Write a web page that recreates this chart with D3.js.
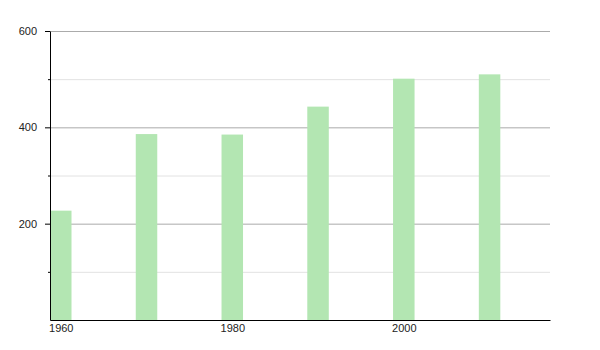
<!DOCTYPE html>
<html>
<head>
<meta charset="utf-8">
<script src="https://cdn.jsdelivr.net/npm/d3@7"></script>
<style>
  body { margin: 0; background: #fff; }
  text { font-family: "Liberation Sans", Arial, sans-serif; font-size: 11px; fill: #222; }
</style>
</head>
<body>
<div id="chart"></div>
<script>
// Data
const years = [1960, 1970, 1980, 1990, 2000, 2010];
const values = [227, 386, 385, 443, 501, 510];
const xTickYears = [1960, 1980, 2000];
const yMajorTicks = [200, 400, 600];
const yMinorTicks = [100, 300, 500];

const W = 600, H = 350;
const margin = { top: 31, right: 50, bottom: 30, left: 50 };
const width = W - margin.left - margin.right;
const height = H - margin.top - margin.bottom;
const barWidth = 21.5;

const svg = d3.select('#chart')
  .append('svg')
  .attr('width', W)
  .attr('height', H)
  .append('g')
  .attr('transform', `translate(${margin.left},${margin.top})`);

const x = d3.scaleLinear().domain([1960, 2018.3]).range([0, width]);
const y = d3.scaleLinear().domain([0, 600]).range([height, 0]);

// minor grid lines
svg.append('g')
  .call(d3.axisLeft(y).tickValues(yMinorTicks).tickSize(-width).tickFormat(''))
  .call((g) => g.select('.domain').remove())
  .call((g) => g.selectAll('.tick line').attr('stroke', '#e2e2e2'));

// major grid lines
svg.append('g')
  .call(d3.axisLeft(y).tickValues(yMajorTicks).tickSize(-width).tickFormat(''))
  .call((g) => g.select('.domain').remove())
  .call((g) => g.selectAll('.tick line').attr('stroke', '#ababab'));

// bars
svg.selectAll('.bar')
  .data(years)
  .enter()
  .append('rect')
  .attr('class', 'bar')
  .attr('x', (d) => x(d))
  .attr('y', (d, i) => y(values[i]))
  .attr('width', barWidth)
  .attr('height', (d, i) => height - y(values[i]))
  .attr('fill', '#b3e6b2');

// y axis: major ticks with labels, minor ticks without
svg.append('g')
  .call(d3.axisLeft(y).tickValues(yMinorTicks).tickSize(2).tickFormat(''))
  .call((g) => g.select('.domain').remove())
  .call((g) => g.selectAll('.tick line').attr('stroke', '#000'));

svg.append('g')
  .call(d3.axisLeft(y).tickValues(yMajorTicks).tickSize(5).tickPadding(8).tickSizeOuter(0))
  .call((g) => g.select('.domain').attr('stroke', '#000'))
  .call((g) => g.selectAll('.tick line').attr('stroke', '#000'))
  .call((g) => g.selectAll('.tick text').style('fill', '#222'));

// x axis
svg.append('g')
  .attr('transform', `translate(0,${height})`)
  .call(d3.axisBottom(x).tickValues(xTickYears).tickSize(0).tickPadding(4).tickFormat(d3.format('d')).tickSizeOuter(0))
  .call((g) => g.select('.domain').attr('stroke', '#000'))
  .call((g) => g.selectAll('.tick text')
    .attr('x', barWidth / 2)
    .style('fill', '#222'));
</script>
</body>
</html>
